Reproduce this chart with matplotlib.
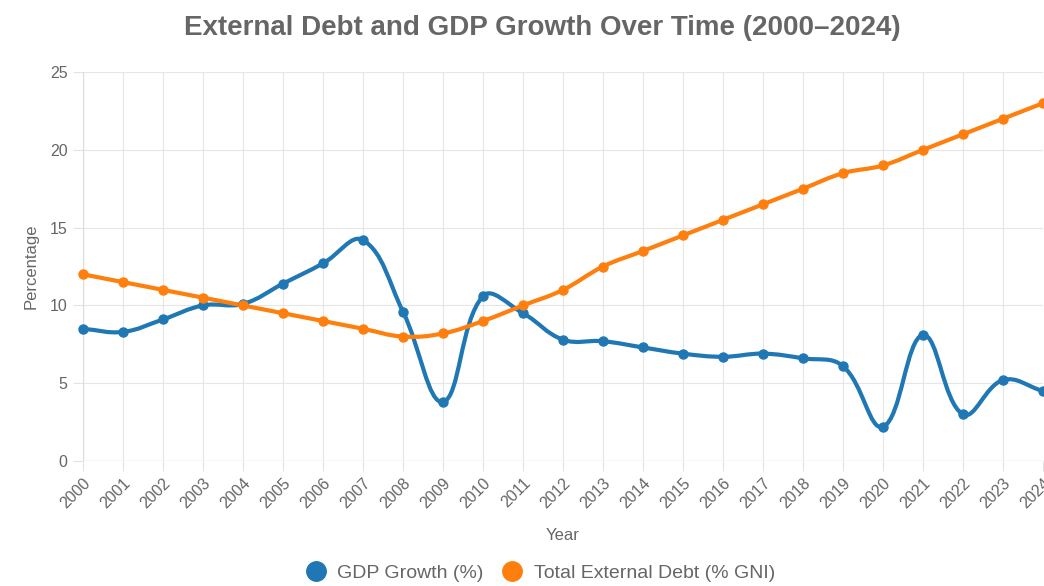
import matplotlib.pyplot as plt
from matplotlib.path import Path
from matplotlib.patches import PathPatch
from matplotlib.lines import Line2D
import numpy as np

plt.rcParams['font.family'] = ['Liberation Sans', 'DejaVu Sans']

years = list(range(2000, 2025))
gdp_growth = [8.5, 8.3, 9.1, 10.0, 10.1, 11.4, 12.7, 14.2, 9.6, 3.8,
              10.6, 9.5, 7.8, 7.7, 7.3, 6.9, 6.7, 6.9, 6.6, 6.1,
              2.2, 8.1, 3.0, 5.2, 4.5]
external_debt = [12.0, 11.5, 11.0, 10.5, 10.0, 9.5, 9.0, 8.5, 8.0, 8.2,
                 9.0, 10.0, 11.0, 12.5, 13.5, 14.5, 15.5, 16.5, 17.5, 18.5,
                 19.0, 20.0, 21.0, 22.0, 23.0]

blue = '#1f77b4'
orange = '#ff7f0e'
text_gray = '#666666'


def smooth_path(ax, xs, ys, tension=0.4):
    # bezier spline like Chart.js, control points computed in pixel space
    pts = ax.transData.transform(np.column_stack([xs, ys]))
    n = len(pts)
    verts = [pts[0]]
    codes = [Path.MOVETO]
    cps = []
    for i in range(n):
        prev = pts[max(i - 1, 0)]
        cur = pts[i]
        nxt = pts[min(i + 1, n - 1)]
        d01 = np.hypot(*(cur - prev))
        d12 = np.hypot(*(nxt - cur))
        tot = d01 + d12 if d01 + d12 > 0 else 1
        fa = tension * d01 / tot
        fb = tension * d12 / tot
        cps.append((cur - fa * (nxt - prev), cur + fb * (nxt - prev)))
    for i in range(n - 1):
        verts += [cps[i][1], cps[i + 1][0], pts[i + 1]]
        codes += [Path.CURVE4] * 3
    data_verts = ax.transData.inverted().transform(np.array(verts))
    return Path(data_verts, codes)


fig = plt.figure(figsize=(10.44, 5.86), dpi=100)
ax = fig.add_axes([0.0795, 0.2133, 0.9195, 0.6637])
ax.set_xlim(2000, 2024)
ax.set_ylim(0, 25)

for vals, col in [(gdp_growth, blue), (external_debt, orange)]:
    p = smooth_path(ax, years, vals)
    ax.add_patch(PathPatch(p, facecolor='none', edgecolor=col, lw=3,
                           capstyle='round', joinstyle='round', zorder=3,
                           clip_on=False))
    ax.plot(years, vals, 'o', color=col, markersize=6.5, zorder=4, clip_on=False)

ax.set_xticks(years)
ax.set_xticklabels([str(y) for y in years], rotation=45, ha='right',
                   rotation_mode='anchor')
ax.set_yticks([0, 5, 10, 15, 20, 25])
ax.tick_params(axis='both', colors='#e2e2e2', labelcolor=text_gray,
               labelsize=11.5, length=7, width=0.8)
ax.tick_params(axis='y', pad=4)
ax.grid(True, color='#e6e6e6', lw=0.8)
ax.set_axisbelow(True)
for s in ax.spines.values():
    s.set_visible(False)
ax.axhline(0, color='#dcdcdc', lw=0.9, zorder=1)
ax.axvline(2000, color='#dcdcdc', lw=0.9, zorder=1)

ax.set_xlabel('Year', color=text_gray, fontsize=12, labelpad=12)
ax.set_ylabel('Percentage', color=text_gray, fontsize=12, labelpad=8)

fig.text(0.519, 0.952, 'External Debt and GDP Growth Over Time (2000\u20132024)',
         ha='center', va='center', fontsize=20, fontweight='bold', color=text_gray)

handles = [Line2D([], [], marker='o', ls='none', color=blue, markersize=14),
           Line2D([], [], marker='o', ls='none', color=orange, markersize=14)]
fig.legend(handles, ['GDP Growth (%)', 'Total External Debt (% GNI)'],
           loc='center', bbox_to_anchor=(0.513, 0.022), ncol=2, frameon=False,
           fontsize=14, labelcolor=text_gray, handletextpad=0.1,
           columnspacing=0.5)

fig.savefig('out.png', dpi=100)
